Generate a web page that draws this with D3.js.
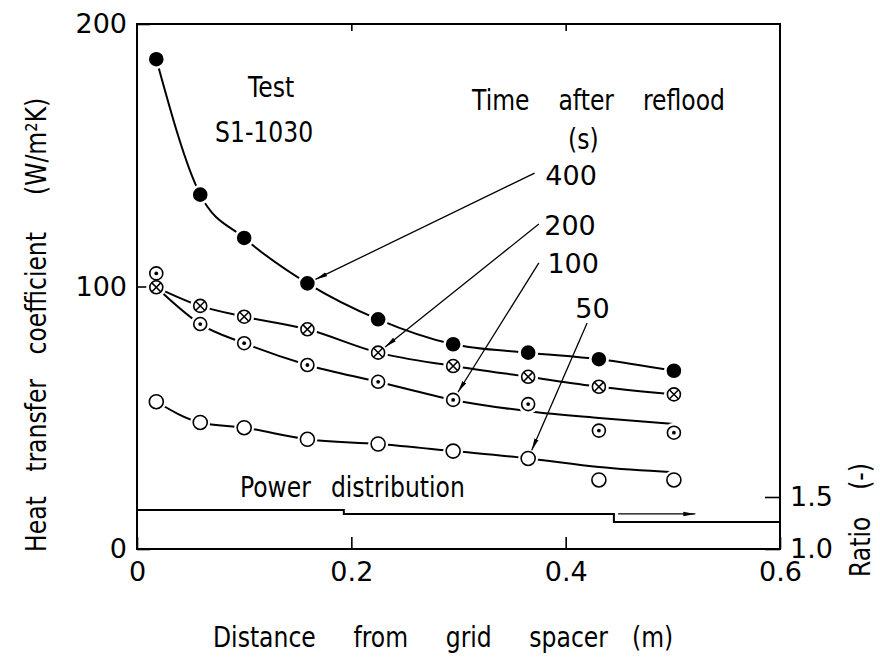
<!DOCTYPE html>
<html>
<head>
<meta charset="utf-8">
<script src="https://cdnjs.cloudflare.com/ajax/libs/d3/7.8.5/d3.min.js"></script>
<style>
body { margin: 0; background: #fff; }
text { font-family: "DejaVu Sans", sans-serif; fill: #000; }
</style>
</head>
<body>
<svg id="chart" width="880" height="657"></svg>
<script>
var xs = [0.018, 0.059, 0.100, 0.159, 0.225, 0.295, 0.365, 0.431, 0.501];
var h400 = [186.6, 135.0, 118.5, 101.2, 87.5, 78.0, 74.8, 72.3, 67.9];
var h200 = [99.7, 92.6, 88.5, 83.7, 74.8, 69.7, 65.6, 61.8, 58.9];
var h100 = [105.0, 85.7, 78.4, 70.1, 63.7, 56.8, 55.2, 45.1, 44.3];
var h50 = [56.1, 48.2, 46.2, 41.8, 40.0, 37.3, 34.5, 26.3, 26.3];
// curves as drawn in the figure (100 and 50 leave the last points)
var fit100 = [99.7, 85.7, 78.4, 70.1, 63.7, 56.8, 52.5, 49.9, 47.6];
var fit50 = [56.1, 48.2, 46.2, 41.8, 40.0, 37.3, 34.5, 31.2, 29.2];
var powerX = [0, 0.193, 0.445, 0.6];
var powerRatio = [1.375, 1.337, 1.26, 1.26];
var xTicks = [0, 0.2, 0.4, 0.6];
var yTicks = [0, 100, 200];
var ratioTicks = [1.0, 1.5];

var series = [
    {name: "400", values: h400, fit: h400, mark: "filled", target: 3, label: [0.381, 138.7], from: [0.371, 143.2]},
    {name: "200", values: h200, fit: h200, mark: "cross", target: 4, label: [0.380, 119.6], from: [0.375, 123.8]},
    {name: "100", values: h100, fit: fit100, mark: "dot", target: 5, label: [0.383, 105.1], from: [0.375, 109.0]},
    {name: "50", values: h50, fit: fit50, mark: "open", target: 6, label: [0.409, 88.0], from: [0.420, 86.1]}
];

var svg = d3.select("#chart");

var x = d3.scaleLinear().domain([0, 0.6]).range([137, 780]);
var y = d3.scaleLinear().domain([0, 200]).range([549, 24]);
var ratio = d3.scaleLinear().domain([1, 1.5]).range([549, 497]);

// narrow lettering with wide word gaps, like the drawing
var squeeze = 0.84;
function label(str, tx, ty, width, rot) {
    var g = svg.append("g")
        .attr("transform", "translate(" + tx + "," + ty + ")" + (rot ? " rotate(-90)" : "") + " scale(" + squeeze + ",1)");
    var t = g.append("text").attr("font-size", 28).text(str);
    var spaces = str.split(" ").length - 1;
    var natural = t.node().getComputedTextLength();
    var want = width / squeeze;
    if (spaces > 0) {
        t.attr("word-spacing", Math.max(0, (want - natural) / spaces));
    }
    return t;
}

svg.append("defs").append("marker")
    .attr("id", "head")
    .attr("markerUnits", "userSpaceOnUse")
    .attr("viewBox", "0 -3 12 6")
    .attr("refX", 12).attr("refY", 0)
    .attr("markerWidth", 12).attr("markerHeight", 6)
    .attr("orient", "auto")
    .append("path")
    .attr("d", "M0,-2.2L12,0L0,2.2Z")
    .attr("fill", "#000");

// frame
svg.append("rect")
    .attr("x", x(0)).attr("y", y(200))
    .attr("width", x(0.6) - x(0)).attr("height", y(0) - y(200))
    .attr("fill", "none").attr("stroke", "#000").attr("stroke-width", 2);

function styleAxis(g) {
    g.select(".domain").remove();
    g.selectAll("line").attr("stroke", "#000").attr("stroke-width", 1.6);
    g.selectAll("text").attr("font-size", 27).attr("font-family", null);
}

svg.append("g")
    .attr("transform", "translate(0," + y(0) + ")")
    .call(d3.axisBottom(x).tickValues(xTicks).tickFormat(function (d) { return d === 0 ? "0" : d3.format(".1f")(d); })
        .tickSizeInner(-12).tickSizeOuter(0).tickPadding(13))
    .call(styleAxis);

svg.append("g")
    .attr("transform", "translate(0," + y(200) + ")")
    .call(d3.axisTop(x).tickValues([0.2, 0.4]).tickFormat("").tickSizeInner(-7).tickSizeOuter(0))
    .call(styleAxis);

svg.append("g")
    .attr("transform", "translate(" + x(0) + ",0)")
    .call(d3.axisLeft(y).tickValues(yTicks).tickSizeInner(-13).tickSizeOuter(0).tickPadding(10))
    .call(styleAxis);

svg.append("g")
    .attr("transform", "translate(" + x(0.6) + ",0)")
    .call(d3.axisRight(ratio).tickValues(ratioTicks).tickFormat(d3.format(".1f")).tickSizeInner(-15).tickSizeOuter(0).tickPadding(10))
    .call(styleAxis);

// curves
var line = d3.line()
    .x(function (d) { return x(d[0]); })
    .y(function (d) { return y(d[1]); })
    .curve(d3.curveMonotoneX);

series.forEach(function (s) {
    svg.append("path")
        .attr("d", line(xs.map(function (v, i) { return [v, s.fit[i]]; })))
        .attr("fill", "none").attr("stroke", "#000").attr("stroke-width", 2);
});

// white halos give the gaps round each marker
series.forEach(function (s) {
    svg.append("g").selectAll("circle")
        .data(xs)
        .enter().append("circle")
        .attr("cx", function (d) { return x(d); })
        .attr("cy", function (d, i) { return y(s.values[i]); })
        .attr("r", 10)
        .attr("fill", "#fff");
});

series.forEach(function (s) {
    var node = svg.append("g").selectAll("g")
        .data(xs)
        .enter().append("g")
        .attr("transform", function (d, i) { return "translate(" + x(d) + "," + y(s.values[i]) + ")"; });

    node.append("circle")
        .attr("r", s.mark == "open" ? 7 : 6.5)
        .attr("fill", s.mark == "filled" ? "#000" : "#fff")
        .attr("stroke", "#000").attr("stroke-width", 1.6);

    if (s.mark == "dot") {
        node.append("circle").attr("r", 1.9).attr("fill", "#000");
    }
    if (s.mark == "cross") {
        node.append("path")
            .attr("d", "M-4.4,-4.4L4.4,4.4M-4.4,4.4L4.4,-4.4")
            .attr("stroke", "#000").attr("stroke-width", 1.5);
    }
});

// time labels and arrows
series.forEach(function (s) {
    var x0 = x(s.from[0]), y0 = y(s.from[1]);
    var x1 = x(xs[s.target]), y1 = y(s.values[s.target]);
    var len = Math.sqrt((x1 - x0) * (x1 - x0) + (y1 - y0) * (y1 - y0));
    var k = (len - 9) / len;
    svg.append("line")
        .attr("x1", x0).attr("y1", y0)
        .attr("x2", x0 + (x1 - x0) * k).attr("y2", y0 + (y1 - y0) * k)
        .attr("stroke", "#000").attr("stroke-width", 1.3)
        .attr("marker-end", "url(#head)");
    svg.append("text")
        .attr("x", x(s.label[0])).attr("y", y(s.label[1]))
        .attr("font-size", 27)
        .text(s.name);
});

// power distribution
var step = d3.line()
    .x(function (d) { return x(d[0]); })
    .y(function (d) { return ratio(d[1]); })
    .curve(d3.curveStepAfter);

svg.append("path")
    .attr("d", step(powerX.map(function (v, i) { return [v, powerRatio[i]]; })))
    .attr("fill", "none").attr("stroke", "#000").attr("stroke-width", 2);

svg.append("line")
    .attr("x1", x(0.449)).attr("y1", ratio(powerRatio[1]))
    .attr("x2", x(0.521)).attr("y2", ratio(powerRatio[1]))
    .attr("stroke", "#000").attr("stroke-width", 1.3)
    .attr("marker-end", "url(#head)");

label("Power distribution", x(0.096), ratio(1.5), 225);

// titles
label("Test", 248, 97, 44);
label("S1-1030", 215, 142, 126);
label("Time after reflood", 472, 110, 253);
label("(s)", 568, 149, 35);

label("Distance from grid spacer", 213, 647, 395);
label("(m)", 632, 647, 51);

label("Heat transfer coefficient", 46, 552, 320, true);
label("(W/m²K)", 46, 195, 120, true);

label("Ratio (-)", 870, 577, 114, true);
</script>
</body>
</html>
